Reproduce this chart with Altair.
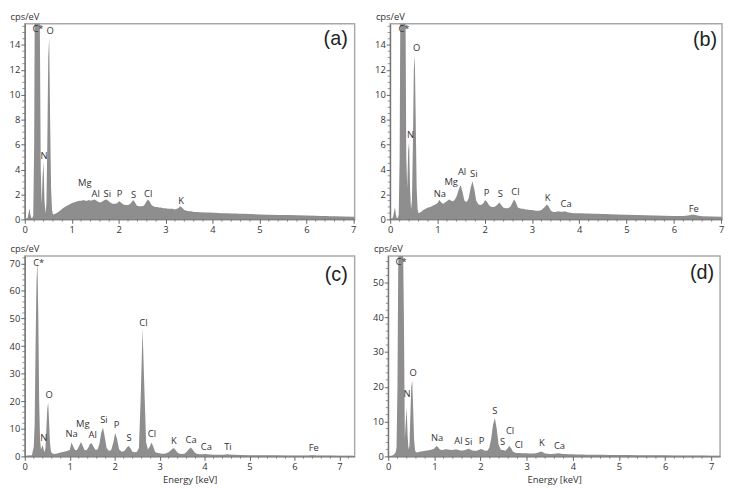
import altair as alt
import pandas as pd

# energy grid (keV)
energy = [
    0.00, 0.02, 0.04, 0.06, 0.08, 0.10, 0.12, 0.14, 0.16, 0.18,
    0.20, 0.22, 0.24, 0.26, 0.28, 0.30, 0.32, 0.34, 0.36, 0.38,
    0.40, 0.42, 0.44, 0.46, 0.48, 0.50, 0.52, 0.54, 0.56, 0.58, 0.60,
    0.65, 0.70, 0.75, 0.80, 0.85, 0.90, 0.95, 1.00,
    1.04, 1.08, 1.12, 1.16, 1.21, 1.25, 1.29, 1.33, 1.37, 1.41,
    1.45, 1.49, 1.53, 1.57, 1.62, 1.66, 1.70, 1.74, 1.78, 1.82,
    1.87, 1.92, 1.97,
    2.01, 2.05, 2.10, 2.15, 2.19, 2.23, 2.27, 2.31, 2.35, 2.39,
    2.44, 2.49, 2.54, 2.58, 2.62, 2.66, 2.70, 2.74, 2.78, 2.82,
    2.86, 2.90, 2.95,
    3.00, 3.05, 3.10, 3.15, 3.20, 3.27, 3.31, 3.35, 3.40, 3.45,
    3.50, 3.55, 3.60, 3.65, 3.69, 3.73, 3.78, 3.84, 3.90, 3.96,
    4.01, 4.06, 4.12, 4.20, 4.30, 4.40, 4.47, 4.51, 4.55, 4.65, 4.80,
    5.00, 5.20, 5.40, 5.60, 5.80, 6.00, 6.20, 6.30, 6.36, 6.40,
    6.44, 6.50, 6.60, 6.80,
    7.00, 7.10, 7.20, 7.30,
]

cps_a = [
    0.30, 0.10, 0.05, 0.10, 0.50, 0.90, 0.40, 0.10, 0.10, 0.30,
    6.0, 25, 45, 60, 55, 35, 16, 4.0, 1.2, 3.5,
    4.6, 1.5, 0.5, 1.2, 6.0, 13.0, 14.6, 8.0, 2.5, 0.8, 0.4,
    0.45, 0.55, 0.70, 0.85, 1.00, 1.10, 1.20, 1.30,
    1.35, 1.40, 1.45, 1.50, 1.50, 1.55, 1.50, 1.50, 1.55, 1.50,
    1.55, 1.60, 1.50, 1.40, 1.35, 1.45, 1.55, 1.60, 1.50, 1.35,
    1.25, 1.25, 1.30,
    1.45, 1.35, 1.20, 1.15, 1.15, 1.20, 1.35, 1.55, 1.35, 1.10,
    1.05, 1.05, 1.10, 1.35, 1.60, 1.45, 1.15, 1.05, 1.00, 1.00,
    0.95, 0.95, 0.90,
    0.90, 0.85, 0.85, 0.85, 0.80, 0.90, 1.05, 0.95, 0.75, 0.70,
    0.65, 0.65, 0.60, 0.60, 0.60, 0.58, 0.57, 0.56, 0.55, 0.55,
    0.54, 0.53, 0.52, 0.50, 0.50, 0.48, 0.47, 0.47, 0.46, 0.45, 0.43,
    0.40, 0.38, 0.36, 0.34, 0.32, 0.30, 0.28, 0.27, 0.27, 0.27,
    0.26, 0.25, 0.24, 0.22,
    0.20, 0.20, 0.19, 0.18,
]

cps_b = [
    0.20, 0.05, 0.05, 0.20, 0.60, 1.00, 0.40, 0.10, 0.10, 0.40,
    5.0, 22, 45, 60, 58, 42, 20, 5.0, 2.5, 5.5,
    6.2, 2.5, 0.8, 1.5, 6.0, 12.0, 13.2, 8.0, 2.5, 0.8, 0.5,
    0.60, 0.75, 0.85, 0.95, 1.00, 1.10, 1.20, 1.30,
    1.55, 1.35, 1.25, 1.35, 1.50, 1.60, 1.50, 1.45, 1.60, 1.90,
    2.40, 2.75, 2.20, 1.50, 1.40, 1.70, 2.50, 3.05, 2.40, 1.50,
    1.20, 1.15, 1.30,
    1.55, 1.40, 1.10, 1.00, 1.00, 1.05, 1.20, 1.35, 1.15, 0.95,
    0.90, 0.90, 1.00, 1.30, 1.60, 1.35, 0.95, 0.90, 0.85, 0.85,
    0.80, 0.80, 0.75,
    0.75, 0.72, 0.70, 0.70, 0.75, 1.00, 1.20, 1.05, 0.70, 0.60,
    0.60, 0.65, 0.62, 0.62, 0.65, 0.60, 0.55, 0.52, 0.50, 0.50,
    0.50, 0.49, 0.48, 0.47, 0.46, 0.45, 0.44, 0.44, 0.43, 0.42, 0.40,
    0.38, 0.35, 0.33, 0.31, 0.29, 0.27, 0.26, 0.30, 0.36, 0.40,
    0.36, 0.30, 0.24, 0.22,
    0.20, 0.20, 0.19, 0.18,
]

cps_c = [
    0.50, 0.20, 0.20, 0.20, 0.30, 0.40, 0.30, 0.30, 0.50, 2.0,
    3.5, 12, 40, 63, 71, 52, 20, 6.0, 2.5, 3.5,
    4.0, 2.5, 1.5, 3.0, 10.0, 17.0, 19.5, 13.0, 5.0, 2.0, 1.2,
    0.90, 1.00, 1.20, 1.40, 1.60, 1.80, 2.00, 2.30,
    5.00, 3.50, 2.20, 2.30, 3.80, 5.20, 3.80, 2.30, 2.20, 3.00,
    4.50, 4.80, 3.50, 2.40, 2.50, 4.50, 8.50, 10.50, 7.00, 3.00,
    2.00, 2.20, 5.00,
    8.50, 6.50, 2.50, 1.80, 1.80, 2.20, 3.20, 3.80, 3.00, 1.80,
    1.50, 1.60, 3.00, 22.0, 46.5, 25.0, 5.00, 2.50, 3.50, 5.00,
    3.50, 1.60, 1.20,
    1.10, 1.00, 1.00, 1.10, 1.50, 2.50, 3.00, 2.40, 1.30, 1.00,
    0.90, 1.00, 1.60, 2.60, 3.20, 2.60, 1.40, 0.90, 0.80, 0.80,
    0.90, 0.80, 0.70, 0.60, 0.60, 0.60, 0.70, 0.75, 0.70, 0.55, 0.50,
    0.45, 0.42, 0.40, 0.38, 0.36, 0.34, 0.32, 0.33, 0.38, 0.42,
    0.38, 0.32, 0.30, 0.28,
    0.26, 0.25, 0.25, 0.24,
]

cps_d = [
    0.30, 0.10, 0.10, 0.10, 0.20, 0.30, 0.50, 0.80, 1.20, 2.50,
    20, 62, 75, 80, 80, 75, 62, 40, 5.0, 10.0,
    14.0, 6.0, 2.0, 3.0, 12.0, 20.0, 21.8, 14.0, 5.0, 1.8, 1.2,
    1.20, 1.40, 1.50, 1.60, 1.70, 1.80, 2.00, 2.30,
    3.00, 2.60, 2.00, 1.80, 1.90, 2.10, 2.00, 1.90, 1.80, 1.90,
    2.00, 2.00, 1.80, 1.70, 1.70, 1.80, 2.00, 2.20, 2.00, 1.70,
    1.60, 1.60, 1.90,
    2.10, 1.90, 1.60, 1.70, 2.50, 5.00, 9.00, 11.0, 8.00, 3.50,
    1.90, 1.80, 1.60, 2.20, 3.00, 2.40, 1.40, 1.10, 1.00, 1.00,
    0.95, 0.90, 0.90,
    0.90, 0.85, 0.85, 0.85, 0.90, 1.20, 1.40, 1.20, 0.85, 0.75,
    0.70, 0.70, 0.75, 0.85, 0.90, 0.80, 0.70, 0.65, 0.60, 0.60,
    0.58, 0.56, 0.54, 0.52, 0.50, 0.48, 0.47, 0.47, 0.46, 0.45, 0.42,
    0.40, 0.38, 0.36, 0.34, 0.32, 0.30, 0.28, 0.28, 0.28, 0.28,
    0.27, 0.26, 0.25, 0.23,
    0.21, 0.20, 0.20, 0.20,
]

# element labels: text, energy position, height position
lab_a = ["C*", "O", "N", "Mg", "Al", "Si", "P", "S", "Cl", "K"]
lab_a_x = [0.28, 0.54, 0.41, 1.28, 1.51, 1.76, 2.02, 2.32, 2.63, 3.33]
lab_a_y = [15.3, 15.1, 5.05, 2.88, 2.05, 2.07, 2.0, 1.95, 2.0, 1.49]

lab_b = ["C*", "O", "N", "Na", "Mg", "Al", "Si", "P", "S", "Cl", "K", "Ca", "Fe"]
lab_b_x = [0.29, 0.56, 0.43, 1.05, 1.29, 1.52, 1.77, 2.04, 2.33, 2.65, 3.33, 3.72, 6.42]
lab_b_y = [15.3, 13.75, 6.75, 2.05, 3.0, 3.8, 3.65, 2.1, 2.0, 2.2, 1.7, 1.24, 0.86]

lab_c = ["C*", "O", "N", "Na", "Mg", "Al", "Si", "P", "S", "Cl", "Cl", "K", "Ca", "Ca", "Ti", "Fe"]
lab_c_x = [0.31, 0.54, 0.42, 1.04, 1.29, 1.51, 1.76, 2.04, 2.32, 2.64, 2.83, 3.32, 3.70, 4.04, 4.52, 6.43]
lab_c_y = [70.0, 22.4, 6.6, 8.0, 11.8, 7.8, 13.2, 11.4, 6.6, 48.4, 8.0, 5.4, 6.0, 3.5, 3.5, 2.9]

lab_d = ["C*", "O", "N", "Na", "Al", "Si", "P", "S", "S", "Cl", "Cl", "K", "Ca"]
lab_d_x = [0.28, 0.54, 0.41, 1.06, 1.52, 1.74, 2.02, 2.31, 2.48, 2.64, 2.83, 3.33, 3.71]
lab_d_y = [55.9, 24.0, 17.8, 5.3, 4.3, 4.0, 4.3, 13.0, 4.0, 7.3, 3.2, 3.8, 2.9]

FILL = "#8e8e8e"
FONT = "Open Sans"
AXC = "#666666"


def panel(cps, labs, lx, ly, tag, xmax, ymax, major, minor, w, h, xtitle, tag_dx, tag_dy):
    df = pd.DataFrame({"E": energy, "cps": cps})
    ldf = pd.DataFrame({"t": labs, "x": lx, "y": ly})
    tdf = pd.DataFrame({"t": [tag]})

    xmaj = [i for i in range(0, 8) if i <= xmax]
    xmin = [round(i * 0.2, 1) for i in range(0, 40) if i * 0.2 <= xmax and i % 5 != 0]
    ny = int(ymax // minor) + 1
    ymaj = [i * major for i in range(int(ymax // major) + 1)]
    ymin = [round(i * minor, 2) for i in range(ny) if (round(i * minor, 2) % major) != 0 and i * minor <= ymax]

    xkw = dict(values=xmaj, tickCount=50, format="d", tickSize=4, labelFlush=False, labelPadding=1)
    if xtitle:
        xkw["title"] = xtitle
        xkw["titlePadding"] = 4
    xaxis = alt.Axis(**xkw)
    yaxis = alt.Axis(
        values=ymaj, tickCount=50, format="d", tickSize=4, labelFlush=False, labelPadding=1,
        title="cps/eV", titleAngle=0, titleAlign="left", titleBaseline="bottom",
        titleX=-15, titleY=-2,
    )
    xenc = alt.X("E:Q", scale=alt.Scale(domain=[0, xmax], nice=False, zero=False), axis=xaxis,
                 title=xtitle if xtitle else None)
    yenc = alt.Y("cps:Q", scale=alt.Scale(domain=[0, ymax], nice=False), axis=yaxis)

    area = alt.Chart(df).mark_area(color=FILL, clip=True, interpolate="linear").encode(x=xenc, y=yenc)
    text = alt.Chart(ldf).mark_text(font=FONT, fontSize=9.5, color="#333", baseline="middle",
                                    align="center").encode(x="x:Q", y="y:Q", text="t:N")
    tagm = alt.Chart(tdf).mark_text(font="Liberation Sans", fontSize=20, color="#222",
                                    align="right", baseline="middle").encode(
        x=alt.value(w - tag_dx), y=alt.value(tag_dy), text="t:N")
    ymt = alt.Chart(pd.DataFrame({"cps": ymin})).mark_tick(
        orient="horizontal", size=2.5, thickness=1, color=AXC).encode(
        y="cps:Q", x=alt.value(-1.25))
    xmt = alt.Chart(pd.DataFrame({"E": xmin})).mark_tick(
        orient="vertical", size=2.5, thickness=1, color=AXC).encode(
        x="E:Q", y=alt.value(h + 1.25))
    return alt.layer(area, text, tagm, ymt, xmt).properties(width=w, height=h)


pa = panel(cps_a, lab_a, lab_a_x, lab_a_y, "(a)", 7.03, 15.7, 2, 0.5, 334, 198, None, 7, 15)
pb = panel(cps_b, lab_b, lab_b_x, lab_b_y, "(b)", 7.02, 15.7, 2, 0.5, 336, 198, None, 5, 16)
pc = panel(cps_c, lab_c, lab_c_x, lab_c_y, "(c)", 7.34, 72.7, 10, 2, 334, 203, "Energy [keV]", 7, 19)
pd_ = panel(cps_d, lab_d, lab_d_x, lab_d_y, "(d)", 7.19, 57.6, 10, 2, 336, 203, "Energy [keV]", 6, 17)

chart = alt.vconcat(
    alt.hconcat(pa, pb, spacing=16),
    alt.hconcat(pc, pd_, spacing=16),
    spacing=8,
).properties(padding=0, background="white").configure_view(
    stroke="#aaaaaa", strokeWidth=1.5
).configure_axis(
    domainColor=AXC, tickColor=AXC, labelColor="#333333", titleColor="#333333",
    labelFont=FONT, labelFontSize=9.5, titleFont=FONT, titleFontSize=9.5, titleFontWeight="normal",
    grid=False, labelOverlap=False,
)

chart.save("out.html", embed_options={"renderer": "svg", "actions": False})
